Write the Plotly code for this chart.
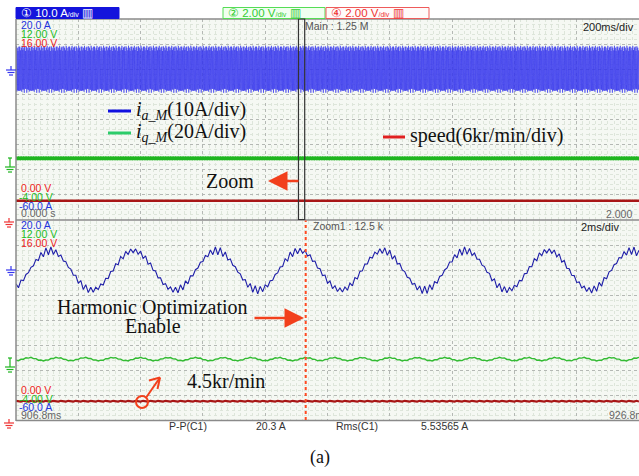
import numpy as np
import plotly.graph_objects as go

W, H = 639, 476

# ---- scope channel settings (8 vertical divisions per window) ----
ch1_range_A = [-60.0, 20.0]     # ia : 10 A/div
ch2_range_V = [-4.00, 12.00]    # iq : 2 V/div
ch4_range_V = [0.00, 16.00]     # speed : 2 V/div

main_span_s = [0.0, 2.0]        # 200 ms/div
zoom_span_ms = [906.8, 926.8]   # 2 ms/div
zoom_rate_ms = 0.08             # 12.5 kS/s in the zoom window
enable_ms = 916.1               # harmonic optimization switched on

# ---- waveform readings ----
ia_freq_hz = 375.0
ia_peak_A = 7.9
ia_ripple_A = 1.6
ia_first_peak_ms = 907.9
iq_level_V = 0.88
iq_ripple_V = 0.12
speed_level_V = 1.5             # 4.5 kr/min at 6 kr/min/div -> 0.75 div

# ---- status bar / readouts ----
pp_text = "20.3 A"
rms_text = "5.53565 A"

BLUE = "#3434ee"
BLUE_D = "#1e1ea8"
GREEN = "#1fb51f"
GREEN_L = "#33bb33"
RED = "#a81616"
ORANGE = "#f2401c"
SCOPE = "Liberation Sans"
SERIF = "Liberation Serif"


def px(x):
    return x / W


def py(y):
    return 1 - y / H


def ia_wave(t_ms):
    n = np.arange(len(t_ms))
    th = 2 * np.pi * ia_freq_hz * (t_ms - ia_first_peak_ms) / 1000.0 + np.pi / 2
    alt = np.where(n % 2 == 0, 1.0, -1.0)
    env = ia_ripple_A * (0.35 + 0.65 * np.abs(np.sin(th))) * (0.75 + 0.25 * np.cos(2 * np.pi * 0.9 * t_ms))
    return ia_peak_A * np.sin(th) + alt * env


def iq_wave(t_ms):
    n = np.arange(len(t_ms))
    alt = np.where(n % 2 == 0, 1.0, -1.0)
    th = 2 * np.pi * 3 * ia_freq_hz * (t_ms - ia_first_peak_ms) / 1000.0
    return iq_level_V + iq_ripple_V * np.sin(th) + 0.03 * alt


def speed_wave(t_ms):
    n = np.arange(len(t_ms))
    alt = np.where(n % 3 == 0, 1.0, -0.5)
    return speed_level_V + 0.04 * alt


t_main_ms = np.linspace(main_span_s[0] * 1000, main_span_s[1] * 1000, 7001)
t_main_s = t_main_ms / 1000.0
t_zoom = np.arange(zoom_span_ms[0], zoom_span_ms[1] + 1e-9, zoom_rate_ms)

fig = go.Figure()

# main window
fig.add_trace(go.Scatter(x=t_main_s, y=iq_wave(t_main_ms), xaxis="x", yaxis="y3", mode="lines",
                         line=dict(color=GREEN, width=1.6), hoverinfo="skip"))
fig.add_trace(go.Scatter(x=t_main_s, y=np.full_like(t_main_s, speed_level_V), xaxis="x", yaxis="y4",
                         mode="lines", line=dict(color=RED, width=2.4), hoverinfo="skip"))
fig.add_trace(go.Scatter(x=t_main_s, y=ia_wave(t_main_ms), xaxis="x", yaxis="y", mode="lines",
                         line=dict(color=BLUE, width=0.6), hoverinfo="skip"))

# zoom window
fig.add_trace(go.Scatter(x=t_zoom, y=iq_wave(t_zoom), xaxis="x2", yaxis="y5", mode="lines",
                         line=dict(color=GREEN_L, width=1.4), hoverinfo="skip"))
fig.add_trace(go.Scatter(x=t_zoom, y=speed_wave(t_zoom), xaxis="x2", yaxis="y6", mode="lines",
                         line=dict(color=RED, width=2.2), hoverinfo="skip"))
fig.add_trace(go.Scatter(x=t_zoom, y=ia_wave(t_zoom), xaxis="x2", yaxis="y2", mode="lines",
                         line=dict(color=BLUE_D, width=1.1), hoverinfo="skip"))

x_dom = [px(16), 1.0]
top_dom = [py(219.5), py(19)]
bot_dom = [py(420), py(220.5)]

GRID_MAJ = "#b4b8b4"
GRID_MIN = "#dde5da"


def xax(rng, tick0, dtick, anchor):
    return dict(domain=x_dom, range=rng, anchor=anchor, tick0=tick0, dtick=dtick,
                showgrid=True, gridcolor=GRID_MAJ, griddash="dot", gridwidth=1,
                minor=dict(tick0=tick0, dtick=dtick / 10, showgrid=True, gridcolor=GRID_MIN, gridwidth=1),
                showticklabels=False, ticks="", zeroline=False, showline=False, fixedrange=True)


def yax(dom, anchor):
    return dict(domain=dom, range=ch1_range_A, anchor=anchor, tick0=0, dtick=10,
                showgrid=True, gridcolor=GRID_MAJ, griddash="dot", gridwidth=1,
                minor=dict(tick0=0, dtick=2, showgrid=True, gridcolor=GRID_MIN, gridwidth=1),
                showticklabels=False, ticks="", zeroline=False, showline=False, fixedrange=True)


def ovl(base, rng, anchor):
    return dict(overlaying=base, range=rng, anchor=anchor, visible=False, fixedrange=True)


fig.update_layout(
    width=W, height=H, margin=dict(l=0, r=0, t=0, b=0),
    paper_bgcolor="white", plot_bgcolor="#f5f8f3", showlegend=False,
    xaxis=xax(main_span_s, 0, 0.2, "y"),
    yaxis=yax(top_dom, "x"),
    yaxis3=ovl("y", ch2_range_V, "x"),
    yaxis4=ovl("y", ch4_range_V, "x"),
    xaxis2=xax(zoom_span_ms, zoom_span_ms[0], 2.0, "y2"),
    yaxis2=yax(bot_dom, "x2"),
    yaxis5=ovl("y2", ch2_range_V, "x2"),
    yaxis6=ovl("y2", ch4_range_V, "x2"),
)

shapes = []


def pline(x0, y0, x1, y1, color, width=1.0, dash="solid"):
    shapes.append(dict(type="line", xref="paper", yref="paper", x0=px(x0), y0=py(y0), x1=px(x1), y1=py(y1),
                       line=dict(color=color, width=width, dash=dash), layer="above"))


def prect(x0, y0, x1, y1, fill, color, width=1.0):
    shapes.append(dict(type="rect", xref="paper", yref="paper", x0=px(x0), y0=py(y0), x1=px(x1), y1=py(y1),
                       fillcolor=fill, line=dict(color=color, width=width), layer="above"))


def ground(cx, cy, color):
    pline(cx, cy - 4, cx, cy, color, 1.2)
    pline(cx - 5, cy, cx + 5, cy, color, 1.2)
    pline(cx - 3.5, cy + 2.5, cx + 3.5, cy + 2.5, color, 1.2)
    pline(cx - 2, cy + 5, cx + 2, cy + 5, color, 1.2)


# screen frame
pline(16, 19, 639, 19, "#8a8a8a", 1.5)
pline(16, 220, 639, 220, "#8a8a8a", 1.5)
pline(16, 420.5, 639, 420.5, "#8a8a8a", 1.5)
pline(16, 19, 16, 421, "#8a8a8a", 1.5)

# channel header boxes
prect(16, 7.5, 119, 18.5, "#1414dc", "#1414dc")
prect(223, 7.5, 325, 18.5, "#f0fff0", "#55dd55")
prect(326, 7.5, 429, 18.5, "#fffafa", "#ee5a5a")

# zoom window marker in the main view
shapes.append(dict(type="rect", xref="x", yref="y domain", x0=zoom_span_ms[0] / 1000, x1=zoom_span_ms[1] / 1000,
                   y0=0.0, y1=1.0, line=dict(color="#333333", width=1.2), layer="above"))
# enable instant in the zoom view
shapes.append(dict(type="line", xref="x2", yref="y2 domain", x0=enable_ms, x1=enable_ms, y0=0, y1=1,
                   line=dict(color="#ff4a22", width=2, dash="dot"), layer="above"))

# ground markers
ground(11, 70, BLUE)
ground(11, 270, BLUE)
ground(10, 167, GREEN)
ground(10, 367, GREEN)
pline(10, 158, 10, 163, GREEN, 1.2)
pline(8, 158, 12, 158, GREEN, 1.2)
pline(10, 358, 10, 363, GREEN, 1.2)
pline(8, 358, 12, 358, GREEN, 1.2)
ground(9, 222, "#ee3333")
ground(9, 423, "#ee3333")

# legend strokes
pline(108, 111, 131, 111, "#1010e0", 3)
pline(108, 133, 131, 133, "#2ccc6a", 3)
pline(383, 137, 405, 137, "#e02020", 3)

# circle marker on the speed trace + arrow
shapes.append(dict(type="circle", xref="paper", yref="paper", x0=px(136), x1=px(148), y0=py(396), y1=py(408),
                   line=dict(color=ORANGE, width=2), layer="above"))
pline(146.5, 397, 160, 377.5, ORANGE, 2)
pline(160, 377.5, 149, 380.5, ORANGE, 2)
pline(160, 377.5, 157.5, 389, ORANGE, 2)

fig.update_layout(shapes=shapes)

ann = []


def note(text, x, y, size=10, color="#333333", family=SCOPE, xanchor="left"):
    ann.append(dict(text=text, x=px(x), y=py(y), xref="paper", yref="paper", xanchor=xanchor, yanchor="middle",
                    showarrow=False, font=dict(size=size, color=color, family=family)))


def arrow(xh, yh, xt, yt):
    ann.append(dict(text="", x=px(xh), y=py(yh), xref="paper", yref="paper", ax=xt - xh, ay=yt - yh,
                    axref="pixel", ayref="pixel", showarrow=True, arrowhead=2, arrowsize=1.5,
                    arrowwidth=2.6, arrowcolor=ORANGE))


# header readouts
note("① 10.0 A<span style='font-size:7px'>/div</span> ▥", 19, 13, 11.5, "white")
note("② 2.00 V<span style='font-size:7px'>/div</span> ▥", 226, 13, 11.5, "#33cc33")
note("④ 2.00 V<span style='font-size:7px'>/div</span> ▥", 329, 13, 11.5, "#ee3333")

LS = 10.5
# scale labels, main window
note("20.0 A", 19, 24.5, LS, "#2233dd")
note("12.00 V", 19, 34, LS, "#22bb22")
note("16.00 V", 19, 43, LS, "#ee2222")
note("0.00 V", 19, 188, LS, "#ee2222")
note("-4.00 V", 17, 197, LS, "#22bb22")
note("-60.0 A", 17, 205.5, LS, "#2233dd")
note("0.000 s", 19, 213.5, LS, "#666666")
note("2.000", 634, 214, LS, "#666666", xanchor="right")
note("Main : 1.25 M", 303, 26, LS, "#555555")
note("200ms/div", 636, 27, 11, "#222222", xanchor="right")

# scale labels, zoom window
note("20.0 A", 19, 225, LS, "#2233dd")
note("12.00 V", 19, 234, LS, "#22bb22")
note("16.00 V", 19, 243, LS, "#ee2222")
note("0.00 V", 19, 390, LS, "#ee2222")
note("-4.00 V", 17, 399, LS, "#22bb22")
note("-60.0 A", 17, 407, LS, "#2233dd")
note("906.8ms", 19, 415, LS, "#666666")
note("926.8ms", 607, 415, LS, "#666666")
note("Zoom1 : 12.5 k", 311, 226, LS, "#555555")
note("2ms/div", 621, 227, 11, "#222222", xanchor="right")

# measurements
note("P-P(C1)", 167, 426, LS, "#333333")
note(pp_text, 254, 426, LS, "#333333")
note("Rms(C1)", 334, 426, LS, "#333333")
note(rms_text, 419, 426, LS, "#333333")

# descriptive labels
note("<i>i</i><sub><i>a_M</i></sub>(10A/div)", 134, 110, 20, "#111111", SERIF)
note("<i>i</i><sub><i>q_M</i></sub>(20A/div)", 134, 132, 20, "#111111", SERIF)
note("speed(6kr/min/div)", 408, 135, 20, "#111111", SERIF)
note("Zoom", 204, 181, 20, "#111111", SERIF)
note("Harmonic Optimization", 152, 307, 20, "#111111", SERIF, xanchor="center")
note("Enable", 153, 326, 20, "#111111", SERIF, xanchor="center")
note("4.5kr/min", 185, 381, 20, "#111111", SERIF)
note("(a)", 320, 457, 18, "#111111", SERIF, xanchor="center")

arrow(268, 181, 300, 181)
arrow(304, 318, 253, 318)

fig.update_layout(annotations=ann)
fig.write_html("out.html")
